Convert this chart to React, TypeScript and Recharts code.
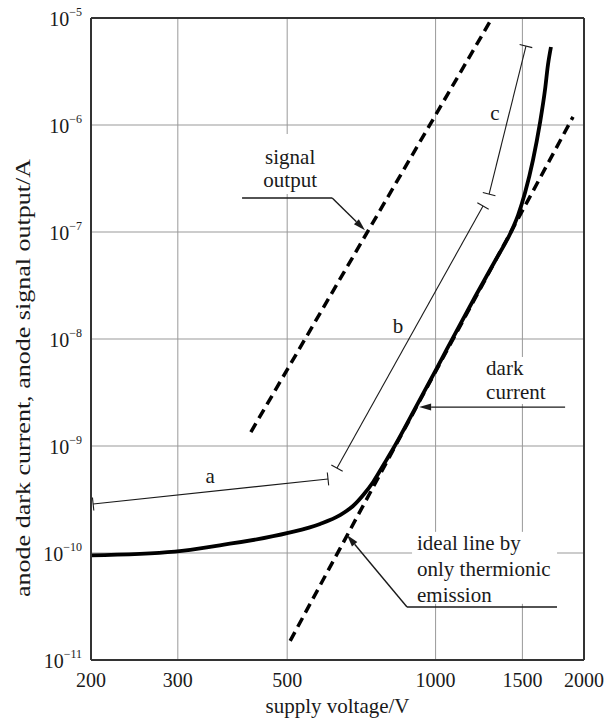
import {
  CartesianGrid,
  Label,
  Line,
  LineChart,
  ReferenceDot,
  ReferenceLine,
  XAxis,
  YAxis,
} from "recharts";

// axes
const xTicks = [200, 300, 500, 1000, 1500, 2000];
const yTicks = [1e-11, 1e-10, 1e-9, 1e-8, 1e-7, 1e-6, 1e-5];

// anode dark current (solid curve)
const darkVoltage = [
  200, 296, 365, 502, 583, 640, 680, 716, 747, 786, 824, 917, 1011, 1100,
  1202, 1320, 1422, 1470, 1518, 1576, 1628, 1667, 1690, 1714,
];
const darkCurrent = [
  9.5e-11, 1.03e-10, 1.18e-10, 1.54e-10, 1.87e-10, 2.26e-10, 2.75e-10,
  3.56e-10, 4.61e-10, 6.79e-10, 9.79e-10, 2.42e-9, 5.59e-9, 1.16e-8,
  2.47e-8, 5.36e-8, 1.0e-7, 1.44e-7, 2.31e-7, 4.71e-7, 1.04e-6, 2.13e-6,
  3.64e-6, 5.36e-6,
];

// signal output (dashed)
const signalVoltage = [422, 1302];
const signalCurrent = [1.35e-9, 1e-5];

// ideal line by only thermionic emission (dashed)
const idealVoltage = [507, 1900];
const idealCurrent = [1.51e-11, 1.19e-6];

// dimension marks a, b, c: [v1, i1, v2, i2]
const dimA = [202, 2.87e-10, 605, 4.92e-10];
const dimB = [631, 6.22e-10, 1248, 1.75e-7];
const dimC = [1284, 2.26e-7, 1525, 5.47e-6];

const toRows = (vs: number[], is: number[]) =>
  vs.map((v, k) => ({ v, i: is[k] }));

const darkData = toRows(darkVoltage, darkCurrent);
const signalData = toRows(signalVoltage, signalCurrent);
const idealData = toRows(idealVoltage, idealCurrent);

const SERIF = "'Liberation Serif', 'Times New Roman', serif";
const INK = "#1a1a1a";
const FRAME = "#333";

const XTick = (p: any) => (
  <text
    x={p.x}
    y={p.y + 27}
    textAnchor="middle"
    fontFamily={SERIF}
    fontSize={20}
    fill={INK}
  >
    {p.payload.value}
  </text>
);

const YTick = (p: any) => {
  const e = Math.round(Math.log10(p.payload.value));
  return (
    <text
      x={p.x - 9}
      y={p.y + 8}
      textAnchor="end"
      fontFamily={SERIF}
      fontSize={20}
      fill={INK}
    >
      10
      <tspan dy={-10} fontSize={12}>
        {"\u2212" + Math.abs(e)}
      </tspan>
    </text>
  );
};

// text annotation drawn at a data point (first baseline)
function textShape(
  lines: string[],
  anchor: "start" | "middle",
  lh: number,
  box?: [number, number, number, number]
) {
  return (p: any) => (
    <g>
      {box && (
        <rect
          x={p.cx + box[0]}
          y={p.cy + box[1]}
          width={box[2]}
          height={box[3]}
          fill="#fff"
        />
      )}
      <text
        x={p.cx}
        y={p.cy}
        textAnchor={anchor}
        fontFamily={SERIF}
        fontSize={21}
        fill={INK}
      >
        {lines.map((s, k) => (
          <tspan key={k} x={p.cx} dy={k === 0 ? 0 : lh}>
            {s}
          </tspan>
        ))}
      </text>
    </g>
  );
}

const plainShape = (p: any) => (
  <line x1={p.x1} y1={p.y1} x2={p.x2} y2={p.y2} stroke={INK} strokeWidth={1.4} />
);

const arrowShape = (p: any) => {
  const { x1, y1, x2, y2 } = p;
  const a = Math.atan2(y2 - y1, x2 - x1);
  const L = 12;
  const w = 3.5;
  const bx = x2 - L * Math.cos(a);
  const by = y2 - L * Math.sin(a);
  const s = Math.sin(a);
  const c = Math.cos(a);
  return (
    <g>
      <line x1={x1} y1={y1} x2={bx} y2={by} stroke={INK} strokeWidth={1.4} />
      <polygon
        points={`${x2},${y2} ${bx + w * s},${by - w * c} ${bx - w * s},${by + w * c}`}
        fill={INK}
      />
    </g>
  );
};

const dimShape = (p: any) => {
  const { x1, y1, x2, y2 } = p;
  const len = Math.hypot(x2 - x1, y2 - y1) || 1;
  const nx = (-(y2 - y1) / len) * 6.5;
  const ny = ((x2 - x1) / len) * 6.5;
  return (
    <g stroke={INK} strokeWidth={1.1}>
      <line x1={x1} y1={y1} x2={x2} y2={y2} />
      <line x1={x1 - nx} y1={y1 - ny} x2={x1 + nx} y2={y1 + ny} />
      <line x1={x2 - nx} y1={y2 - ny} x2={x2 + nx} y2={y2 + ny} />
    </g>
  );
};

const seg = (d: number[]) => [
  { x: d[0], y: d[1] },
  { x: d[2], y: d[3] },
];

export default function App() {
  return (
    <div style={{ position: "absolute", left: 0, top: 0 }}>
      <LineChart
        width={609}
        height={726}
        margin={{ top: 18, right: 25, bottom: 36, left: 0 }}
      >
        <CartesianGrid stroke="#999" strokeWidth={1} />
        <XAxis
          dataKey="v"
          type="number"
          scale="log"
          domain={[200, 2000]}
          ticks={xTicks}
          allowDataOverflow
          height={30}
          tickLine={false}
          tickSize={0}
          tickMargin={0}
          tick={XTick}
          axisLine={{ stroke: FRAME, strokeWidth: 2 }}
        >
          <Label
            content={() => (
              <text
                x={337.5}
                y={713}
                textAnchor="middle"
                fontFamily={SERIF}
                fontSize={21}
                fill={INK}
              >
                supply voltage/V
              </text>
            )}
          />
        </XAxis>
        <YAxis
          type="number"
          scale="log"
          domain={[1e-11, 1e-5]}
          ticks={yTicks}
          allowDataOverflow
          width={91}
          tickLine={false}
          tickSize={0}
          tickMargin={0}
          tick={YTick}
          axisLine={{ stroke: FRAME, strokeWidth: 2 }}
        >
          <Label
            content={() => (
              <text
                transform="translate(23,378) rotate(-90) scale(1.24,1)"
                x={0}
                y={0}
                textAnchor="middle"
                dominantBaseline="central"
                fontFamily={SERIF}
                fontSize={21}
                fill={INK}
              >
                anode dark current, anode signal output/A
              </text>
            )}
          />
        </YAxis>
        <ReferenceLine y={1e-5} stroke={FRAME} strokeWidth={2} />
        <ReferenceLine x={2000} stroke={FRAME} strokeWidth={2} />

        {/* labels (white boxes hide the grid behind them) */}
        <ReferenceDot
          x={507}
          y={4.32e-7}
          r={0}
          shape={textShape(["signal", "output"], "middle", 23, [-34, -30, 68, 60])}
        />
        <ReferenceDot
          x={1266}
          y={4.61e-9}
          r={0}
          shape={textShape(["dark", "current"], "start", 24, [-3, -18, 66, 47])}
        />
        <ReferenceDot
          x={917}
          y={1.07e-10}
          r={0}
          shape={textShape(
            ["ideal line by", "only thermionic", "emission"],
            "start",
            26,
            [-5, -18, 145, 72]
          )}
        />
        <ReferenceDot x={349} y={4.51e-10} r={0} shape={textShape(["a"], "middle", 0)} />
        <ReferenceDot x={839} y={1.14e-8} r={0} shape={textShape(["b"], "middle", 0)} />
        <ReferenceDot x={1320} y={1.11e-6} r={0} shape={textShape(["c"], "middle", 0)} />

        <Line
          data={idealData}
          dataKey="i"
          type="linear"
          stroke="#000"
          strokeWidth={3.5}
          strokeDasharray="10 6"
          dot={false}
          isAnimationActive={false}
        />
        <Line
          data={signalData}
          dataKey="i"
          type="linear"
          stroke="#000"
          strokeWidth={3.5}
          strokeDasharray="10 6"
          dot={false}
          isAnimationActive={false}
        />
        <Line
          data={darkData}
          dataKey="i"
          type="monotone"
          stroke="#000"
          strokeWidth={3.8}
          dot={false}
          isAnimationActive={false}
        />

        {/* leaders */}
        <ReferenceLine
          segment={[
            { x: 405, y: 2.08e-7 },
            { x: 617, y: 2.08e-7 },
          ]}
          shape={plainShape}
        />
        <ReferenceLine
          segment={[
            { x: 617, y: 2.08e-7 },
            { x: 719, y: 1.04e-7 },
          ]}
          shape={arrowShape}
        />
        <ReferenceLine
          segment={[
            { x: 1831, y: 2.31e-9 },
            { x: 926, y: 2.31e-9 },
          ]}
          shape={arrowShape}
        />
        <ReferenceLine
          segment={[
            { x: 1763, y: 3.13e-11 },
            { x: 875, y: 3.13e-11 },
          ]}
          shape={plainShape}
        />
        <ReferenceLine
          segment={[
            { x: 875, y: 3.13e-11 },
            { x: 661, y: 1.47e-10 },
          ]}
          shape={arrowShape}
        />

        {/* dimension marks */}
        <ReferenceLine segment={seg(dimA)} shape={dimShape} />
        <ReferenceLine segment={seg(dimB)} shape={dimShape} />
        <ReferenceLine segment={seg(dimC)} shape={dimShape} />
      </LineChart>
    </div>
  );
}
